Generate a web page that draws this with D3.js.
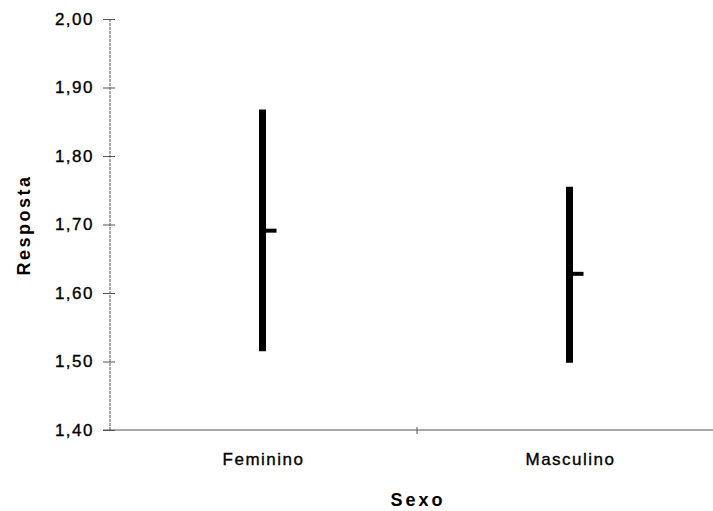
<!DOCTYPE html>
<html lang="en">
<head>
    <meta charset="UTF-8">
    <title>Resposta por Sexo</title>
    <script src="https://d3js.org/d3.v7.min.js"></script>
    <style>
        body { margin: 0; background: #fff; }
        text { font-family: Arial, "Liberation Sans", sans-serif; fill: #000; }
        .axis path, .axis line { stroke: #555; stroke-width: 1; }
        .axis text { stroke: #000; stroke-width: 0.35; }
        .title { font-weight: bold; }
    </style>
</head>
<body>
    <svg id="chart" width="713" height="511"></svg>

    <script>
        const categories = ["Feminino", "Masculino"];
        const upper = [1.868, 1.755];
        const lower = [1.515, 1.498];
        const means = [1.691, 1.628];
        const yTicks = [1.40, 1.50, 1.60, 1.70, 1.80, 1.90, 2.00];

        const svg = d3.select("#chart");
        const margin = {left: 110, top: 19, right: -11, bottom: 81};
        const width = 713 - margin.left - margin.right;
        const height = 511 - margin.top - margin.bottom;

        const g = svg.append("g")
            .attr("transform", `translate(${margin.left},${margin.top})`);

        const x = d3.scaleBand().domain(categories).range([0, width]);
        const y = d3.scaleLinear().domain([1.4, 2.0]).range([height, 0]);

        // Y axis
        const yAxis = g.append("g")
            .attr("class", "axis")
            .call(d3.axisLeft(y)
                .tickValues(yTicks)
                .tickSize(7)
                .tickPadding(9)
                .tickFormat(d => d3.format(".2f")(d).replace(".", ",")));
        yAxis.select(".domain").attr("d", `M0,0V${height}`).attr("stroke-dasharray", "3,1");
        yAxis.selectAll(".tick line").attr("x1", 5);
        yAxis.selectAll(".tick text")
            .attr("font-family", "Arial, 'Liberation Sans', sans-serif")
            .attr("font-size", 17)
            .attr("letter-spacing", 1.5);

        // X axis
        const xAxis = g.append("g")
            .attr("class", "axis")
            .attr("transform", `translate(0,${height})`)
            .call(d3.axisBottom(x).tickSize(0).tickPadding(23));
        xAxis.select(".domain").attr("d", `M-7,0H${width}`);
        xAxis.selectAll(".tick text")
            .attr("font-family", "Arial, 'Liberation Sans', sans-serif")
            .attr("font-size", 17)
            .attr("letter-spacing", 1.5);
        xAxis.selectAll(".sep")
            .data(categories.slice(1))
            .enter()
            .append("line")
            .attr("x1", d => x(d))
            .attr("x2", d => x(d))
            .attr("y1", -3)
            .attr("y2", 4)
            .attr("stroke", "#555");

        // Range bars
        g.selectAll(".range")
            .data(categories)
            .enter()
            .append("line")
            .attr("x1", d => x(d) + x.bandwidth() / 2 - 1)
            .attr("x2", d => x(d) + x.bandwidth() / 2 - 1)
            .attr("y1", (d, i) => y(upper[i]))
            .attr("y2", (d, i) => y(lower[i]))
            .attr("stroke", "#000")
            .attr("stroke-width", 7);

        // Mean ticks
        g.selectAll(".mean")
            .data(categories)
            .enter()
            .append("line")
            .attr("x1", d => x(d) + x.bandwidth() / 2)
            .attr("x2", d => x(d) + x.bandwidth() / 2 + 13)
            .attr("y1", (d, i) => y(means[i]))
            .attr("y2", (d, i) => y(means[i]))
            .attr("stroke", "#000")
            .attr("stroke-width", 4);

        // Axis titles
        svg.append("text")
            .attr("class", "title")
            .attr("transform", "translate(30,225) rotate(-90)")
            .attr("text-anchor", "middle")
            .attr("font-size", 18)
            .attr("letter-spacing", 2.5)
            .text("Resposta");

        svg.append("text")
            .attr("class", "title")
            .attr("x", 418)
            .attr("y", 506)
            .attr("text-anchor", "middle")
            .attr("font-size", 18)
            .attr("letter-spacing", 3)
            .text("Sexo");
    </script>
</body>
</html>
